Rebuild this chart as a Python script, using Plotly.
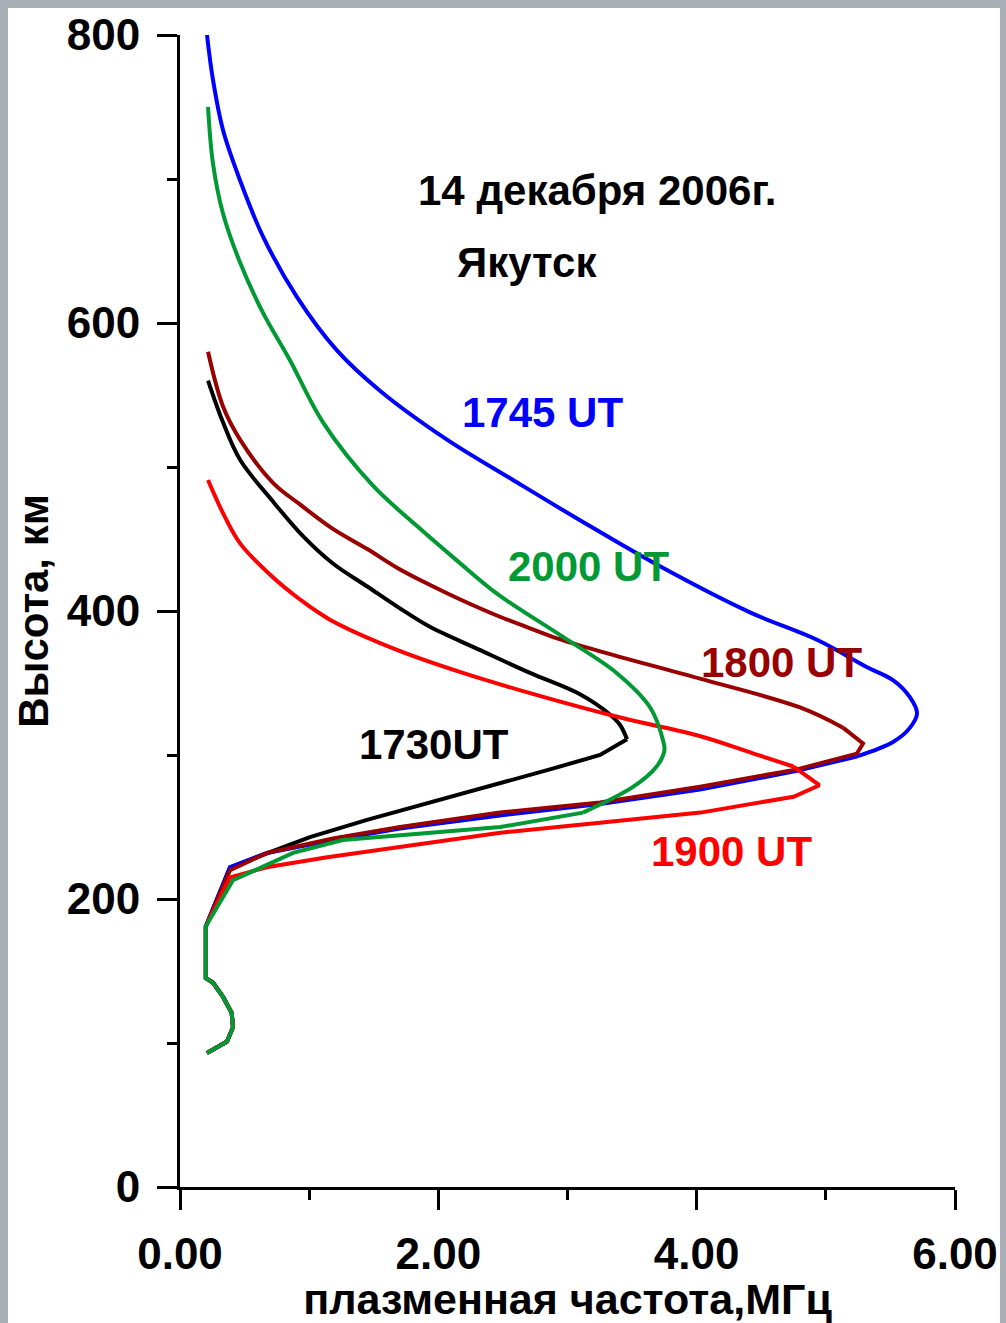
import plotly.graph_objects as go

# ---- data (plasma frequency MHz, height km) ----
# shared bottom (E-region) part of all profiles
bottom_f = [0.20, 0.20, 0.255, 0.333, 0.40, 0.41, 0.364, 0.209]
bottom_h = [181, 145, 142, 132, 121, 111, 101, 93]

# 1730 UT: topside (to the peak) and bottomside
f_1730_top = [0.217, 0.333, 0.465, 0.72, 0.952, 1.184, 1.45, 1.70, 1.935, 2.32, 2.71, 3.10,
              3.33, 3.406, 3.461]
h_1730_top = [560, 531, 505, 476, 452, 433, 417, 402, 389, 373, 357, 342,
              328, 321, 311]
f_1730_low = [3.461, 3.252, 2.864, 2.222, 1.448, 1.006, 0.674, 0.387]
h_1730_low = [311, 300, 290, 274, 255, 243, 232, 222]

# 1745 UT
f_1745_top = [0.209, 0.255, 0.333, 0.465, 0.643, 0.906, 1.215, 1.548, 2.067, 2.578, 3.097, 3.716,
              4.413, 4.931, 5.319, 5.520, 5.652, 5.706, 5.652, 5.520, 5.241]
h_1745_top = [800, 769, 734, 699, 660, 618, 581, 553, 519, 491, 463, 431,
              399, 380, 361, 352, 340, 329, 319, 309, 299]
f_1745_low = [5.241, 4.777, 4.026, 3.252, 2.477, 1.703, 1.184, 0.674, 0.387]
h_1745_low = [299, 289, 276, 266, 258, 249, 241, 232, 222]

# 1800 UT
f_1800_top = [0.217, 0.333, 0.465, 0.72, 0.929, 1.184, 1.45, 1.70, 1.96, 2.17, 2.477, 2.71,
              2.919, 3.252, 4.026, 4.800, 5.133]
h_1800_top = [580, 542, 519, 489, 474, 457, 443, 429, 417, 408, 396, 388,
              381, 372, 353, 333, 319]
f_1800_low = [5.133, 5.288, 5.241, 4.777, 4.026, 3.252, 2.477, 1.703, 1.184, 0.674, 0.387]
h_1800_low = [319, 308, 301, 290, 278, 267, 260, 250, 242, 232, 220]

# 1900 UT
f_1900_top = [0.217, 0.333, 0.465, 0.70, 0.929, 1.161, 1.68, 2.19, 2.71, 3.41, 4.03, 4.44,
              4.75]
h_1900_top = [491, 468, 447, 425, 408, 394, 373, 357, 343, 326, 313, 301,
              292]
f_1900_low = [4.75, 4.95, 4.75, 4.03, 3.25, 2.48, 1.14, 0.67, 0.387]
h_1900_low = [292, 279, 271, 260, 253, 246, 229, 222, 215]

# 2000 UT
f_2000_top = [0.217, 0.255, 0.333, 0.465, 0.643, 0.852, 1.107, 1.494, 1.835, 2.145, 2.454, 2.965,
              3.38, 3.64, 3.74, 3.75, 3.69, 3.51, 3.12]
h_2000_top = [750, 711, 676, 642, 607, 574, 531, 487, 459, 435, 412, 382,
              357, 333, 310, 303, 292, 278, 260]
f_2000_low = [3.12, 2.48, 1.26, 0.875, 0.41]
h_2000_low = [260, 250, 241, 232, 213]

series = [
    ("1730UT", f_1730_top, h_1730_top, f_1730_low, h_1730_low, "#000000"),
    ("1745 UT", f_1745_top, h_1745_top, f_1745_low, h_1745_low, "#0000FF"),
    ("1800 UT", f_1800_top, h_1800_top, f_1800_low, h_1800_low, "#990000"),
    ("1900 UT", f_1900_top, h_1900_top, f_1900_low, h_1900_low, "#FF0000"),
    ("2000 UT", f_2000_top, h_2000_top, f_2000_low, h_2000_low, "#009933"),
]

FONT = "Liberation Sans, Arial, sans-serif"

fig = go.Figure()
for name, ft, ht, fl, hl, c in series:
    fig.add_trace(go.Scatter(
        x=ft, y=ht, mode="lines", name=name, legendgroup=name,
        line=dict(color=c, width=4, shape="spline", smoothing=1.0),
        showlegend=False, hoverinfo="skip"))
    fig.add_trace(go.Scatter(
        x=fl + bottom_f, y=hl + bottom_h, mode="lines", name=name, legendgroup=name,
        line=dict(color=c, width=4),
        showlegend=False, hoverinfo="skip"))

labels = [
    ("14 декабря 2006г.", 3.23, 692, "#000000"),
    ("Якутск", 2.69, 642, "#000000"),
    ("1745 UT", 2.81, 538, "#0000FF"),
    ("2000 UT", 3.16, 431, "#009933"),
    ("1800 UT", 4.66, 364, "#990000"),
    ("1730UT", 1.97, 307, "#000000"),
    ("1900 UT", 4.27, 233, "#FF0000"),
]
for t, x, y, c in labels:
    fig.add_annotation(x=x, y=y, text="<b>%s</b>" % t, showarrow=False,
                       xanchor="center", yanchor="middle",
                       font=dict(family=FONT, size=42, color=c))

axis_common = dict(showline=True, linecolor="black", linewidth=3, showgrid=False,
                   zeroline=False, ticks="outside", ticklen=20, tickwidth=3,
                   tickcolor="black", automargin=False,
                   tickfont=dict(family=FONT, size=44, color="black", weight="bold"))

fig.update_xaxes(range=[0, 6], dtick=2, tick0=0, tickformat=".2f",
                 minor=dict(ticks="outside", ticklen=10, tickwidth=3, tickcolor="black", dtick=1),
                 ticklabelstandoff=6,
                 title=dict(text="<b>плазменная частота,МГц</b>", standoff=2,
                            font=dict(family=FONT, size=43, color="black")),
                 **axis_common)
fig.update_yaxes(range=[0, 800], dtick=200, tick0=0,
                 minor=dict(ticks="outside", ticklen=10, tickwidth=3, tickcolor="black", dtick=100),
                 ticklabelstandoff=8,
                 title=dict(text="<b>Высота, км</b>", standoff=6,
                            font=dict(family=FONT, size=42, color="black")),
                 **axis_common)

# page background: photo-like gray border around a white sheet
fig.add_shape(type="rect", xref="paper", yref="paper", layer="below",
              x0=-0.2219, x1=1.058, y0=-0.2, y1=1.0234,
              fillcolor="white", line=dict(width=0))

fig.update_layout(
    width=1006, height=1323,
    margin=dict(l=180, r=51, t=35, b=136),
    paper_bgcolor="#a9adb5", plot_bgcolor="white",
)

fig.write_html("out.html")
